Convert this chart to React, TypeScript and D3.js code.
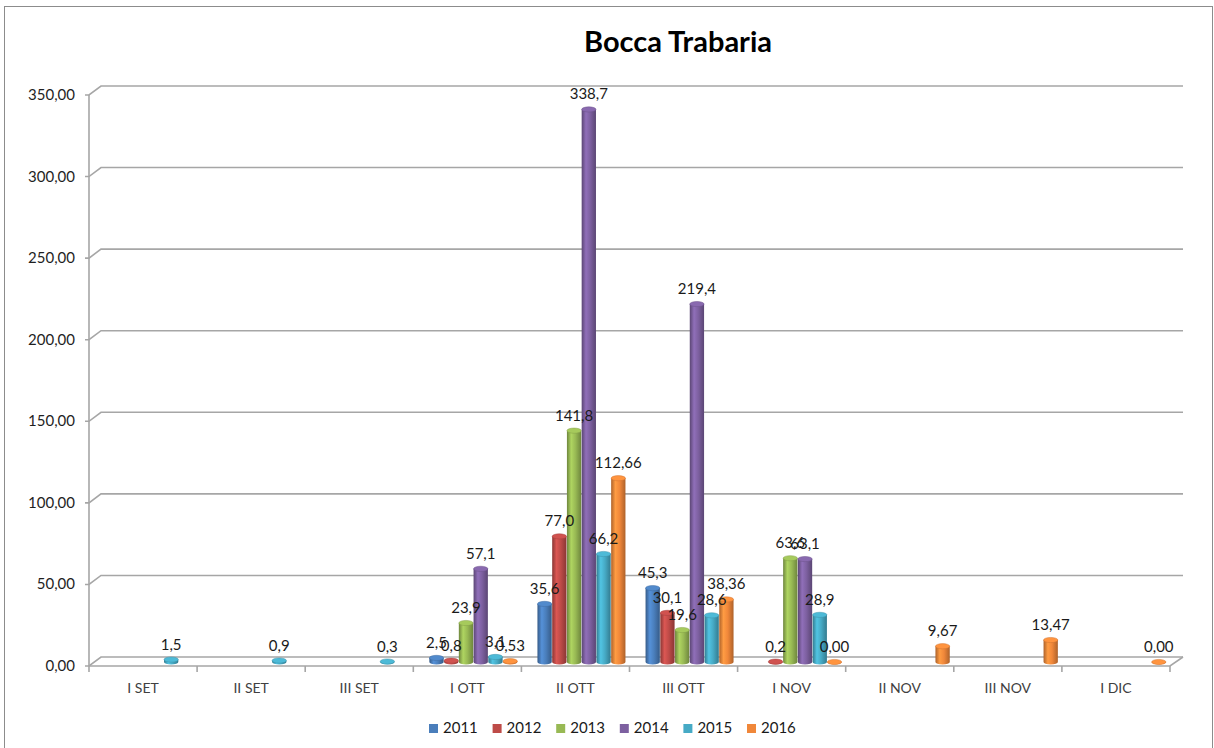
import React from 'react';
import * as d3 from 'd3';

const categories = ['I SET', 'II SET', 'III SET', 'I OTT', 'II OTT', 'III OTT', 'I NOV', 'II NOV', 'III NOV', 'I DIC'];
const years = ['2011', '2012', '2013', '2014', '2015', '2016'];

const s2011 = [null, null, null, 2.5, 35.6, 45.3, null, null, null, null];
const s2012 = [null, null, null, 0.8, 77.0, 30.1, 0.2, null, null, null];
const s2013 = [null, null, null, 23.9, 141.8, 19.6, 63.6, null, null, null];
const s2014 = [null, null, null, 57.1, 338.7, 219.4, 63.1, null, null, null];
const s2015 = [1.5, 0.9, 0.3, 3.1, 66.2, 28.6, 28.9, null, null, null];
const s2016 = [null, null, null, 0.53, 112.66, 38.36, 0.0, 9.67, 13.47, 0.0];

const series: (number | null)[][] = [s2011, s2012, s2013, s2014, s2015, s2016];
const decimals = [1, 1, 1, 1, 1, 2];
const colors = ['#4a7ebb', '#be4b48', '#98b954', '#7d60a0', '#46aac5', '#f0873a'];
const yTicks = [0, 50, 100, 150, 200, 250, 300, 350];

const FONT = 'Lato, "Open Sans", sans-serif';
const DX = 12;
const DY = 8;

const fmt = (v: number, d: number) => v.toFixed(d).replace('.', ',');

const App: React.FC = () => {
  const x0 = d3.scaleBand<string>().domain(categories).range([89, 1170]).padding(0);
  const groupW = 88;
  const x1 = d3.scaleBand<string>().domain(years).range([0, groupW]).paddingInner(0.03);
  const yFront = d3.scaleLinear().domain([0, 350]).range([666, 95]);
  const yBar = d3.scaleLinear().domain([0, 350]).range([662, 91]);

  const bars: { key: string; x: number; w: number; top: number; base: number; si: number; label: string }[] = [];
  series.forEach((vals, si) => {
    vals.forEach((v, ci) => {
      if (v === null) return;
      const x = (x0(categories[ci]) as number) + (x0.bandwidth() - groupW) / 2 + DX / 2 + (x1(years[si]) as number);
      bars.push({
        key: `${si}-${ci}`,
        x,
        w: x1.bandwidth(),
        top: yBar(v),
        base: yBar(0),
        si,
        label: fmt(v, decimals[si]),
      });
    });
  });

  const right = 1170;

  return (
    <svg width={1214} height={748} style={{ position: 'fixed', left: 0, top: 0, background: '#fff' }}>
      <defs>
        {colors.map((c, i) => {
          const dark = d3.color(c)!.darker(0.9).formatHex();
          const light = d3.color(c)!.brighter(0.4).formatHex();
          return (
            <linearGradient id={`g${i}`} key={i} x1="0" x2="1" y1="0" y2="0">
              <stop offset="0%" stopColor={dark} />
              <stop offset="30%" stopColor={light} />
              <stop offset="60%" stopColor={c} />
              <stop offset="100%" stopColor={dark} />
            </linearGradient>
          );
        })}
      </defs>

      <rect x={4.5} y={6.5} width={1208} height={760} fill="none" stroke="#8c8c8c" strokeWidth={1} />

      <text x={678} y={52} textAnchor="middle" fontFamily={FONT} fontWeight="bold" fontSize={29} fill="#000">
        Bocca Trabaria
      </text>

      {/* gridlines: diagonal from front axis to back wall then across */}
      {yTicks.map((t) => {
        const yf = yFront(t);
        return (
          <g key={t}>
            <path
              d={`M85,${yf} L89,${yf} L${89 + DX},${yf - DY - 1} L${right + DX + 1},${yf - DY - 1}`}
              fill="none"
              stroke="#a6a6a6"
              strokeWidth={1.6}
            />
            <text x={75} y={yf + 5} textAnchor="end" fontFamily={FONT} fontSize={15} fill="#1f1f1f">
              {fmt(t, 2)}
            </text>
          </g>
        );
      })}

      {/* floor */}
      <path
        d={`M89,${yFront(0)} L${right},${yFront(0)} L${right + DX + 1},${yFront(0) - DY - 1}`}
        fill="none"
        stroke="#a6a6a6"
        strokeWidth={1.6}
      />
      <line x1={89} x2={89} y1={yFront(350)} y2={yFront(0)} stroke="#a6a6a6" strokeWidth={1.6} />
      {d3.range(categories.length + 1).map((i) => {
        const xx = 89 + i * x0.bandwidth();
        return <line key={i} x1={xx} x2={xx} y1={yFront(0)} y2={yFront(0) + 6} stroke="#a6a6a6" strokeWidth={1.6} />;
      })}
      {categories.map((c) => (
        <text
          key={c}
          x={(x0(c) as number) + x0.bandwidth() / 2}
          y={693}
          textAnchor="middle"
          fontFamily={FONT}
          fontSize={14}
          fill="#404040"
        >
          {c}
        </text>
      ))}

      {/* cylinders */}
      {bars.map((b) => {
        const rx = b.w / 2;
        const ry = 2.6;
        const c = colors[b.si];
        const topCol = d3.color(c)!.brighter(0.25).formatHex();
        return (
          <g key={b.key}>
            <path
              d={`M${b.x},${b.top} L${b.x},${b.base} A${rx},${ry} 0 0 0 ${b.x + b.w},${b.base} L${b.x + b.w},${b.top} Z`}
              fill={`url(#g${b.si})`}
            />
            <ellipse cx={b.x + rx} cy={b.top} rx={rx} ry={ry} fill={topCol} stroke={d3.color(c)!.darker(0.4).formatHex()} strokeWidth={0.5} />
          </g>
        );
      })}

      {/* data labels */}
      {bars.map((b) => (
        <text
          key={`l${b.key}`}
          x={b.x + b.w / 2}
          y={b.top - 10}
          textAnchor="middle"
          fontFamily={FONT}
          fontSize={15}
          fill="#1a1a1a"
        >
          {b.label}
        </text>
      ))}

      {/* legend */}
      {years.map((yr, i) => {
        const lx = 429 + i * 63.6;
        return (
          <g key={yr}>
            <rect x={lx} y={724} width={9} height={9} fill={colors[i]} />
            <text x={lx + 14} y={733} fontFamily={FONT} fontSize={15} fill="#1a1a1a">
              {yr}
            </text>
          </g>
        );
      })}
    </svg>
  );
};

export default App;
